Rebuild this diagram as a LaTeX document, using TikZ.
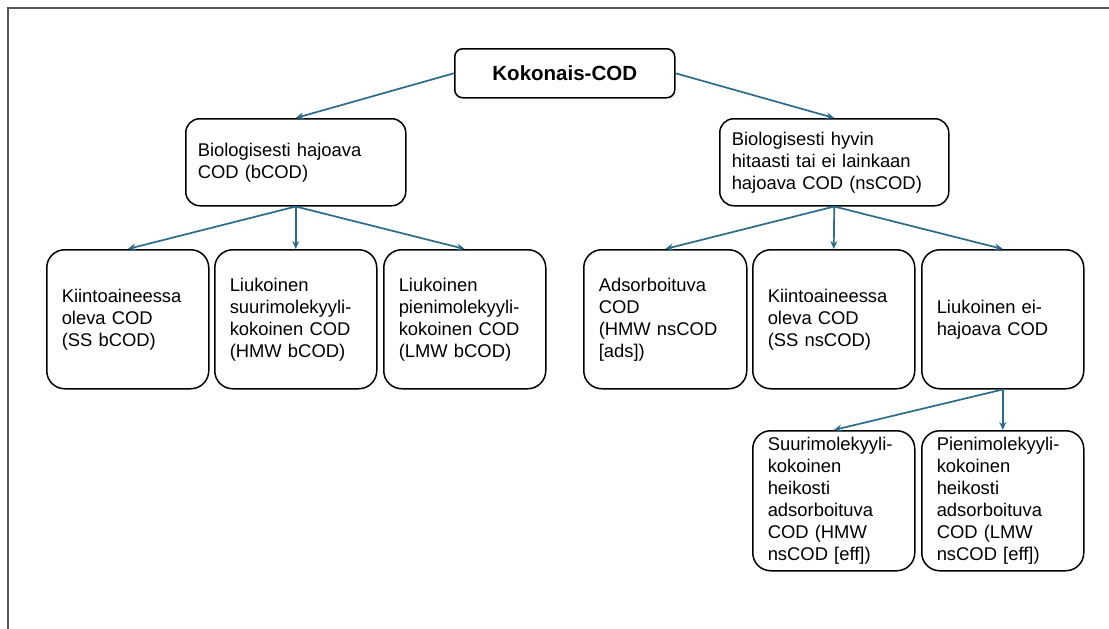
\documentclass[tikz,border=0pt]{standalone}
\usepackage{fontspec}
\setmainfont{Liberation Sans}
\usetikzlibrary{arrows.meta}
\definecolor{arrowblue}{HTML}{2B6A8A}
\definecolor{framegray}{HTML}{555555}
\tikzset{
  box/.style={draw=black, line width=1.5pt, rectangle, anchor=north west,
    inner xsep=15pt, inner ysep=0pt, align=left,
    font=\fontsize{18.4pt}{22pt}\selectfont},
  rowbox/.style={box, rounded corners=18pt, text width=132pt, minimum height=139pt},
  midbox/.style={box, rounded corners=14pt, inner xsep=12pt, minimum height=87pt},
  topbox/.style={draw=black, line width=1.5pt, rectangle, anchor=north west,
    rounded corners=8pt, inner sep=0pt, align=center,
    minimum width=220pt, minimum height=49pt,
    font=\fontsize{20.5pt}{24pt}\selectfont\bfseries},
  conn/.style={draw=arrowblue, line width=1.7pt, -{Stealth[length=8pt,width=7pt]}}
}
\begin{document}
\begin{tikzpicture}[x=1pt,y=1pt]
\useasboundingbox (0,0) rectangle (1109,-629);
\draw[framegray, line width=1.6pt] (8,-629) coordinate (fl) -- (8,-8) coordinate (fc) -- (1109,-8) coordinate (fr);

\node[topbox] (top) at (454,-48) {Kokonais-COD};

\node[midbox, text width=196pt] (lmid) at (185,-118) {Biologisesti hajoava\\COD (bCOD)};
\node[midbox, text width=205pt] (rmid) at (719,-118) {Biologisesti hyvin\\hitaasti tai ei lainkaan\\hajoava COD (nsCOD)};

\node[rowbox] (b1) at (46,-249) {Kiintoaineessa\\oleva COD\\(SS bCOD)};
\node[rowbox] (b2) at (214,-249) {Liukoinen\\suurimolekyyli-\\kokoinen COD\\(HMW bCOD)};
\node[rowbox] (b3) at (383,-249) {Liukoinen\\pienimolekyyli-\\kokoinen COD\\(LMW bCOD)};

\node[rowbox, text width=133pt] (b4) at (583,-249) {Adsorboituva\\COD\\(HMW nsCOD\\{[ads]})};
\node[rowbox] (b5) at (752,-249) {Kiintoaineessa\\oleva COD\\(SS nsCOD)};
\node[rowbox] (b6) at (921,-249) {Liukoinen ei-\\hajoava COD};

\node[rowbox, minimum height=140pt] (b7) at (752,-430) {Suurimolekyyli-\\kokoinen\\heikosti\\adsorboituva\\COD (HMW\\nsCOD {[eff]})};
\node[rowbox, minimum height=140pt] (b8) at (921,-430) {Pienimolekyyli-\\kokoinen\\heikosti\\adsorboituva\\COD (LMW\\nsCOD {[eff]})};

\draw[conn] (top.west) -- (lmid.north);
\draw[conn] (top.east) -- (rmid.north);
\draw[conn] (lmid.south) -- (b1.north);
\draw[conn] (lmid.south) -- (b2.north);
\draw[conn] (lmid.south) -- (b3.north);
\draw[conn] (rmid.south) -- (b4.north);
\draw[conn] (rmid.south) -- (b5.north);
\draw[conn] (rmid.south) -- (b6.north);
\draw[conn] (b6.south) -- (b7.north);
\draw[conn] (b6.south) -- (b8.north);
\end{tikzpicture}
\end{document}
